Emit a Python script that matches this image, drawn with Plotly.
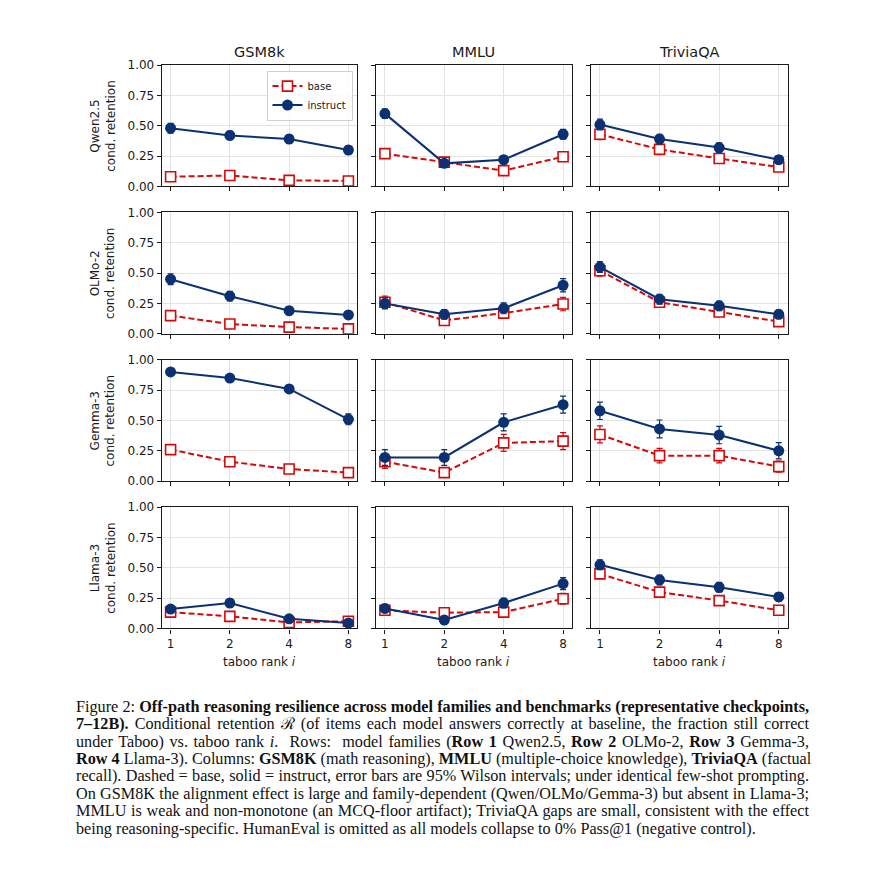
import plotly.graph_objects as go
import math

# ---------------- data ----------------
ranks = [1, 2, 4, 8]
rank_labels = ["1", "2", "4", "8"]
families = ["Qwen2.5", "OLMo-2", "Gemma-3", "Llama-3"]
benchmarks = ["GSM8k", "MMLU", "TriviaQA"]

# Qwen2.5
qwen_gsm_base = [0.08, 0.09, 0.05, 0.045]
qwen_gsm_inst = [0.48, 0.42, 0.39, 0.30]
qwen_mmlu_base = [0.27, 0.20, 0.13, 0.245]
qwen_mmlu_inst = [0.60, 0.19, 0.22, 0.43]
qwen_tqa_base = [0.43, 0.305, 0.23, 0.16]
qwen_tqa_inst = [0.51, 0.39, 0.32, 0.22]
# OLMo-2
olmo_gsm_base = [0.15, 0.08, 0.055, 0.04]
olmo_gsm_inst = [0.45, 0.31, 0.19, 0.155]
olmo_mmlu_base = [0.26, 0.11, 0.17, 0.245]
olmo_mmlu_inst = [0.25, 0.16, 0.21, 0.40]
olmo_tqa_base = [0.52, 0.26, 0.18, 0.10]
olmo_tqa_inst = [0.55, 0.285, 0.23, 0.16]
# Gemma-3
gemma_gsm_base = [0.26, 0.16, 0.10, 0.07]
gemma_gsm_inst = [0.90, 0.85, 0.76, 0.51]
gemma_mmlu_base = [0.16, 0.07, 0.315, 0.33]
gemma_mmlu_inst = [0.195, 0.195, 0.485, 0.63]
gemma_tqa_base = [0.385, 0.21, 0.21, 0.12]
gemma_tqa_inst = [0.58, 0.43, 0.38, 0.25]
# Llama-3
llama_gsm_base = [0.135, 0.10, 0.05, 0.06]
llama_gsm_inst = [0.16, 0.21, 0.08, 0.045]
llama_mmlu_base = [0.15, 0.13, 0.135, 0.245]
llama_mmlu_inst = [0.165, 0.07, 0.21, 0.37]
llama_tqa_base = [0.45, 0.30, 0.23, 0.15]
llama_tqa_inst = [0.525, 0.40, 0.34, 0.26]

# 95% Wilson half-widths
qwen_gsm_base_err = [0.025, 0.025, 0.02, 0.02]
qwen_gsm_inst_err = [0.04, 0.035, 0.035, 0.035]
qwen_mmlu_base_err = [0.035, 0.03, 0.03, 0.035]
qwen_mmlu_inst_err = [0.04, 0.03, 0.035, 0.04]
qwen_tqa_base_err = [0.045, 0.04, 0.035, 0.03]
qwen_tqa_inst_err = [0.045, 0.04, 0.04, 0.035]
olmo_gsm_base_err = [0.03, 0.025, 0.02, 0.02]
olmo_gsm_inst_err = [0.045, 0.04, 0.035, 0.03]
olmo_mmlu_base_err = [0.05, 0.035, 0.04, 0.055]
olmo_mmlu_inst_err = [0.045, 0.04, 0.045, 0.055]
olmo_tqa_base_err = [0.045, 0.04, 0.035, 0.03]
olmo_tqa_inst_err = [0.045, 0.04, 0.04, 0.035]
gemma_gsm_base_err = [0.035, 0.03, 0.025, 0.02]
gemma_gsm_inst_err = [0.02, 0.025, 0.03, 0.045]
gemma_mmlu_base_err = [0.055, 0.035, 0.07, 0.07]
gemma_mmlu_inst_err = [0.065, 0.065, 0.07, 0.07]
gemma_tqa_base_err = [0.07, 0.06, 0.06, 0.045]
gemma_tqa_inst_err = [0.072, 0.074, 0.072, 0.067]
llama_gsm_base_err = [0.03, 0.025, 0.02, 0.02]
llama_gsm_inst_err = [0.03, 0.035, 0.025, 0.02]
llama_mmlu_base_err = [0.03, 0.03, 0.03, 0.045]
llama_mmlu_inst_err = [0.035, 0.025, 0.04, 0.05]
llama_tqa_base_err = [0.04, 0.035, 0.035, 0.03]
llama_tqa_inst_err = [0.04, 0.04, 0.04, 0.035]

y_ticks = [0, 0.25, 0.5, 0.75, 1.0]
y_tick_labels = ["0.00", "0.25", "0.50", "0.75", "1.00"]

caption_lines = [
    "Figure 2: <b>Off-path reasoning resilience across model families and benchmarks (representative checkpoints,</b>",
    "<b>7–12B).</b> Conditional retention ℛ (of items each model answers correctly at baseline, the fraction still correct",
    "under Taboo) vs. taboo rank <i>i</i>.  Rows:  model families (<b>Row 1</b> Qwen2.5, <b>Row 2</b> OLMo-2, <b>Row 3</b> Gemma-3,",
    "<b>Row 4</b> Llama-3). Columns: <b>GSM8K</b> (math reasoning), <b>MMLU</b> (multiple-choice knowledge), <b>TriviaQA</b> (factual",
    "recall). Dashed = base, solid = instruct, error bars are 95% Wilson intervals; under identical few-shot prompting.",
    "On GSM8K the alignment effect is large and family-dependent (Qwen/OLMo/Gemma-3) but absent in Llama-3;",
    "MMLU is weak and non-monotone (an MCQ-floor artifact); TriviaQA gaps are small, consistent with the effect",
    "being reasoning-specific. HumanEval is omitted as all models collapse to 0% Pass@1 (negative control).",
]

grid_data = [
    [(qwen_gsm_base, qwen_gsm_base_err, qwen_gsm_inst, qwen_gsm_inst_err),
     (qwen_mmlu_base, qwen_mmlu_base_err, qwen_mmlu_inst, qwen_mmlu_inst_err),
     (qwen_tqa_base, qwen_tqa_base_err, qwen_tqa_inst, qwen_tqa_inst_err)],
    [(olmo_gsm_base, olmo_gsm_base_err, olmo_gsm_inst, olmo_gsm_inst_err),
     (olmo_mmlu_base, olmo_mmlu_base_err, olmo_mmlu_inst, olmo_mmlu_inst_err),
     (olmo_tqa_base, olmo_tqa_base_err, olmo_tqa_inst, olmo_tqa_inst_err)],
    [(gemma_gsm_base, gemma_gsm_base_err, gemma_gsm_inst, gemma_gsm_inst_err),
     (gemma_mmlu_base, gemma_mmlu_base_err, gemma_mmlu_inst, gemma_mmlu_inst_err),
     (gemma_tqa_base, gemma_tqa_base_err, gemma_tqa_inst, gemma_tqa_inst_err)],
    [(llama_gsm_base, llama_gsm_base_err, llama_gsm_inst, llama_gsm_inst_err),
     (llama_mmlu_base, llama_mmlu_base_err, llama_mmlu_inst, llama_mmlu_inst_err),
     (llama_tqa_base, llama_tqa_base_err, llama_tqa_inst, llama_tqa_inst_err)],
]

# ---------------- layout geometry (pixels) ----------------
W, H = 877, 875
col_px = [(161.7, 357.3), (376.0, 572.0), (591.0, 787.7)]
row_px = [(64.5, 186.0), (212.1, 333.6), (359.7, 481.2), (507.3, 628.8)]
V_SCALE = 0.9856  # observed vertical squeeze of the photographed page

BASE_C = "#d40a0a"
INST_C = "#0b3172"
FONT = "DejaVu Sans"
TXT = "#1a1a1a"


def px_x(x):
    return x / W


def px_y(y):
    y_spec = H / 2 + (y - H / 2) / V_SCALE
    return 1 - y_spec / H


lo = math.log10(1) - 0.15 * math.log10(2)
hi = math.log10(8) + 0.15 * math.log10(2)

fig = go.Figure()
layout_axes = {}
idx = 0
for r in range(4):
    for c in range(3):
        idx += 1
        xa = "x" if idx == 1 else f"x{idx}"
        ya = "y" if idx == 1 else f"y{idx}"
        base, base_err, inst, inst_err = grid_data[r][c]
        fig.add_trace(go.Scatter(
            x=ranks, y=base, xaxis=xa, yaxis=ya, name="base",
            mode="lines+markers", showlegend=(idx == 1), legendgroup="base",
            line=dict(color=BASE_C, width=2, dash="6px,3px"),
            marker=dict(symbol="square", size=10, color="white",
                        line=dict(color=BASE_C, width=1.6)),
            error_y=dict(type="data", array=base_err, color=BASE_C,
                         thickness=1.2, width=3),
        ))
        fig.add_trace(go.Scatter(
            x=ranks, y=inst, xaxis=xa, yaxis=ya, name="instruct",
            mode="lines+markers", showlegend=(idx == 1), legendgroup="inst",
            line=dict(color=INST_C, width=2),
            marker=dict(symbol="circle", size=11, color=INST_C,
                        line=dict(color=INST_C, width=0)),
            error_y=dict(type="data", array=inst_err, color=INST_C,
                         thickness=1.2, width=3),
        ))
        xk = "xaxis" if idx == 1 else f"xaxis{idx}"
        yk = "yaxis" if idx == 1 else f"yaxis{idx}"
        layout_axes[xk] = dict(
            type="log", range=[lo, hi],
            domain=[px_x(col_px[c][0]), px_x(col_px[c][1])],
            anchor=ya, tickmode="array", tickvals=ranks,
            ticktext=rank_labels,
            showticklabels=(r == 3),
            ticks="outside", ticklen=4, tickwidth=1, tickcolor=TXT,
            showline=True, linecolor=TXT, linewidth=1.1, mirror=True,
            showgrid=True, gridcolor="#e3e3e3", gridwidth=1,
            zeroline=False, tickfont=dict(family=FONT, size=12, color=TXT),
        )
        layout_axes[yk] = dict(
            range=[0, 1],
            domain=[px_y(row_px[r][1]), px_y(row_px[r][0])],
            anchor=xa, tickmode="array", tickvals=y_ticks,
            ticktext=y_tick_labels, showticklabels=(c == 0),
            ticks="outside", ticklen=4, tickwidth=1, tickcolor=TXT,
            showline=True, linecolor=TXT, linewidth=1.1, mirror=True,
            showgrid=True, gridcolor="#e3e3e3", gridwidth=1,
            zeroline=False, tickfont=dict(family=FONT, size=12, color=TXT),
        )

annotations = []
for c, name in enumerate(benchmarks):
    annotations.append(dict(
        text=name, xref="paper", yref="paper",
        x=px_x((col_px[c][0] + col_px[c][1]) / 2), y=px_y(51),
        xanchor="center", yanchor="middle", showarrow=False,
        font=dict(family=FONT, size=14.5, color=TXT),
    ))
    annotations.append(dict(
        text="taboo rank <i>i</i>", xref="paper", yref="paper",
        x=px_x((col_px[c][0] + col_px[c][1]) / 2), y=px_y(662),
        xanchor="center", yanchor="middle", showarrow=False,
        font=dict(family=FONT, size=12, color=TXT),
    ))
for r, fam in enumerate(families):
    annotations.append(dict(
        text=f"{fam}<br>cond. retention", xref="paper", yref="paper",
        x=px_x(103), y=px_y((row_px[r][0] + row_px[r][1]) / 2),
        xanchor="center", yanchor="middle", showarrow=False, textangle=-90,
        font=dict(family=FONT, size=12, color=TXT),
    ))
cap0 = len(annotations)
for k, line in enumerate(caption_lines):
    annotations.append(dict(
        text=line, xref="paper", yref="paper", align="left",
        x=px_x(74), y=px_y(707 + 17.5 * k),
        xanchor="left", yanchor="middle", showarrow=False,
        font=dict(family="Liberation Serif", size=16.2, color="#111"),
    ))

fig.update_layout(
    width=W, height=H, margin=dict(l=0, r=0, t=0, b=0),
    paper_bgcolor="white", plot_bgcolor="white",
    showlegend=True,
    legend=dict(x=px_x(352.5), y=px_y(70), xanchor="right", yanchor="top",
                bgcolor="rgba(255,255,255,0.85)", bordercolor="#d0d0d0",
                borderwidth=1, font=dict(family=FONT, size=10, color=TXT),
                itemwidth=30, tracegroupgap=0),
    annotations=annotations,
    **layout_axes,
)

# page setup: pin the figure to the top-left of the window, and
# justify the caption lines (all but the last) to the full text width
post = """
var gd = document.getElementById('{plot_id}');
document.documentElement.style.margin = '0';
document.body.style.margin = '0';
gd.style.position = 'fixed'; gd.style.left = '0px'; gd.style.top = '0px';
var CAP0 = %d, NJ = %d, TARGET = %f;
gd.querySelectorAll('g.annotation').forEach(function (g) {
  var i = parseInt(g.getAttribute('data-index'));
  if (i >= CAP0 && i < CAP0 + NJ) {
    var t = g.querySelector('text.annotation-text');
    if (!t) return;
    var L = t.getComputedTextLength();
    var n = (t.textContent.match(/ /g) || []).length;
    if (n > 0 && L < TARGET) t.style.wordSpacing = ((TARGET - L) / n).toFixed(3) + 'px';
  }
});
""" % (cap0, len(caption_lines) - 1, 809.0 - 76.0)

fig.write_html("out.html", config={"displayModeBar": False}, post_script=post)
